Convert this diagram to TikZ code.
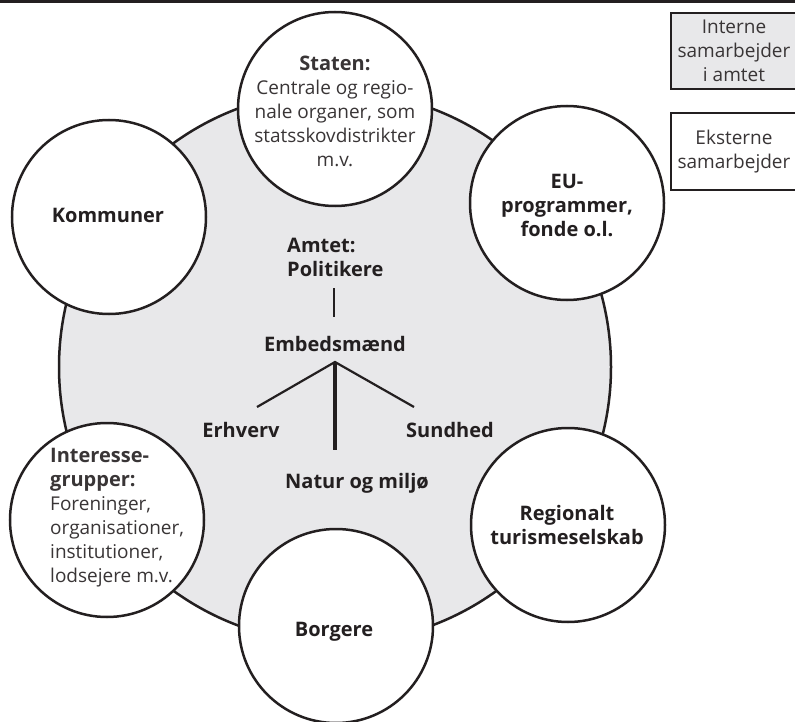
\documentclass[tikz,border=0pt]{standalone}
\usepackage{fontspec}
\setmainfont{Open Sans}
\definecolor{ink}{HTML}{231F20}
\definecolor{pale}{HTML}{E8E8EA}
\begin{document}
\begin{tikzpicture}[x=1pt,y=-1pt,
  ring/.style={circle, draw=ink, line width=2.5pt, fill=white, minimum size=194pt, inner sep=0pt},
  boldtxt/.style={font=\fontsize{20}{24}\selectfont\bfseries, text=ink, align=center, inner sep=0pt},
  lighttxt/.style={font=\fontsize{19}{24}\selectfont, text=ink!90, align=center, inner sep=0pt},
  legendbox/.style={draw=ink, line width=2pt, minimum width=126pt, inner sep=0pt, font=\fontsize{19}{24}\selectfont, text=ink!90, align=center},
  branch/.style={draw=ink, line width=2.2pt},
  trunk/.style={draw=ink, line width=4pt}
]
\useasboundingbox (0,0) rectangle (795,722);
\fill[ink] (0,0) rectangle (795,3.5);

% big circle
\node[circle, draw=ink, fill=pale, line width=2.5pt, minimum size=552pt, inner sep=0pt] (amt) at (335,367) {};

% outer circles
\node[ring] (staten) at (335,109) {};
\node[ring] (kommuner) at (109,217) {};
\node[ring] (eu) at (567,203) {};
\node[ring] (interesse) at (107,520) {};
\node[ring] (borgere) at (336,626) {};
\node[ring] (regional) at (568,525) {};

% texts in circles
\node[lighttxt] (statentxt) at (335,111) {{\fontsize{20}{24}\selectfont\bfseries Staten:}\\Centrale og regio-\\nale organer, som\\statsskovdistrikter\\m.v.};
\node[boldtxt] (kommunertxt) at (108,215) {Kommuner};
\node[boldtxt] (eutxt) at (567,205) {EU-\\programmer,\\fonde o.l.};
\node[lighttxt, align=left, anchor=west] (interessetxt) at (50,518) {{\fontsize{20}{24}\selectfont\bfseries Interesse-}\\{\fontsize{20}{24}\selectfont\bfseries grupper:}\\Foreninger,\\organisationer,\\institutioner,\\lodsejere m.v.};
\node[boldtxt] (regionaltxt) at (567,525) {Regionalt\\turismeselskab};
\node[boldtxt] (borgeretxt) at (334,632) {Borgere};

% centre
\node[boldtxt, align=left, anchor=west] (amtet) at (287,257) {Amtet:\\Politikere};
\node[boldtxt] (embeds) at (335,344) {Embedsmænd};
\node[boldtxt] (erhverv) at (241,430) {Erhverv};
\node[boldtxt] (sundhed) at (450,430) {Sundhed};
\node[boldtxt] (natur) at (357,483) {Natur og miljø};

\coordinate (v1) at (334,288);
\coordinate (v2) at (334,317);
\coordinate (apex) at (335,362);
\coordinate (lend) at (257,407);
\coordinate (rend) at (414,407);
\coordinate (bend) at (335,450);
\draw[branch] (v1) -- (v2);
\draw[branch] (lend) -- (apex) -- (rend);
\draw[trunk] (apex) -- (bend);

% legend
\node[legendbox, fill=pale, minimum height=76pt] (intern) at (734,51) {Interne\\samarbejder\\i amtet};
\node[legendbox, fill=white, minimum height=77pt] (ekstern) at (734,151.5) {Eksterne\\samarbejder};
\end{tikzpicture}
\end{document}
